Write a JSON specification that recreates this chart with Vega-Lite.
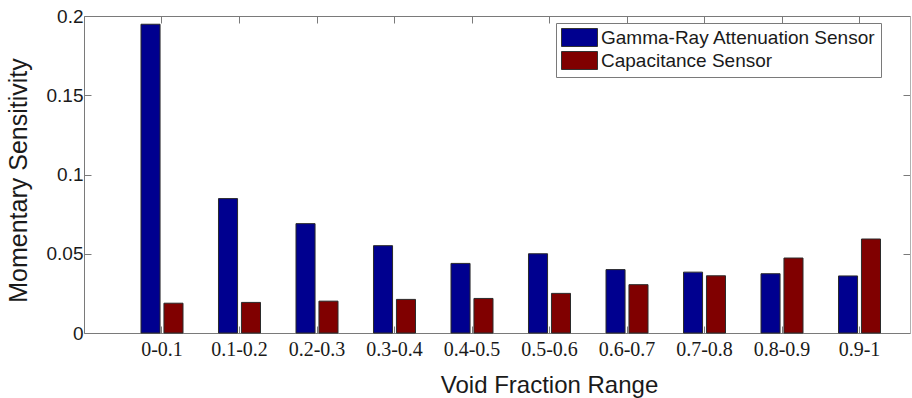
{
  "$schema": "https://vega.github.io/schema/vega-lite/v6.json",
  "width": 826,
  "height": 317,
  "autosize": "none",
  "padding": {"left": 84, "top": 16, "right": 2, "bottom": 65},
  "background": "white",
  "config": {"view": {"stroke": null}},
  "data": {
    "values": [
      {"range": "0-0.1", "sensor": "Gamma-Ray Attenuation Sensor", "value": 0.1948},
      {"range": "0-0.1", "sensor": "Capacitance Sensor", "value": 0.0188},
      {"range": "0.1-0.2", "sensor": "Gamma-Ray Attenuation Sensor", "value": 0.0848},
      {"range": "0.1-0.2", "sensor": "Capacitance Sensor", "value": 0.0193},
      {"range": "0.2-0.3", "sensor": "Gamma-Ray Attenuation Sensor", "value": 0.069},
      {"range": "0.2-0.3", "sensor": "Capacitance Sensor", "value": 0.0201},
      {"range": "0.3-0.4", "sensor": "Gamma-Ray Attenuation Sensor", "value": 0.0551},
      {"range": "0.3-0.4", "sensor": "Capacitance Sensor", "value": 0.0212},
      {"range": "0.4-0.5", "sensor": "Gamma-Ray Attenuation Sensor", "value": 0.0439},
      {"range": "0.4-0.5", "sensor": "Capacitance Sensor", "value": 0.0218},
      {"range": "0.5-0.6", "sensor": "Gamma-Ray Attenuation Sensor", "value": 0.05},
      {"range": "0.5-0.6", "sensor": "Capacitance Sensor", "value": 0.025},
      {"range": "0.6-0.7", "sensor": "Gamma-Ray Attenuation Sensor", "value": 0.04},
      {"range": "0.6-0.7", "sensor": "Capacitance Sensor", "value": 0.0305},
      {"range": "0.7-0.8", "sensor": "Gamma-Ray Attenuation Sensor", "value": 0.0384},
      {"range": "0.7-0.8", "sensor": "Capacitance Sensor", "value": 0.0361},
      {"range": "0.8-0.9", "sensor": "Gamma-Ray Attenuation Sensor", "value": 0.0374},
      {"range": "0.8-0.9", "sensor": "Capacitance Sensor", "value": 0.0473},
      {"range": "0.9-1", "sensor": "Gamma-Ray Attenuation Sensor", "value": 0.036},
      {"range": "0.9-1", "sensor": "Capacitance Sensor", "value": 0.0593}
    ]
  },
  "layer": [
    {
      "mark": {"type": "bar", "stroke": "#2b2b2b", "strokeWidth": 1},
      "encoding": {
        "x": {
          "field": "range", "type": "nominal", "sort": null,
          "scale": {"type": "band", "paddingInner": 0.458, "paddingOuter": 0.558, "align": 0.659},
          "axis": {
            "orient": "bottom", "title": "Void Fraction Range", "labelAngle": 0,
            "labelFont": "Liberation Serif", "labelFontSize": 20, "labelColor": "#1a1a1a", "labelPadding": 13,
            "tickSize": -7, "tickColor": "#7a7a7a", "domainColor": "#7a7a7a", "grid": false,
            "titleFont": "Liberation Sans", "titleFontSize": 24, "titleFontWeight": "normal", "titleColor": "#1a1a1a",
            "titleX": 465, "titleY": 59, "titleBaseline": "alphabetic", "titleAlign": "center", "titleAnchor": null
          }
        },
        "xOffset": {
          "field": "sensor", "type": "nominal",
          "sort": ["Gamma-Ray Attenuation Sensor", "Capacitance Sensor"],
          "scale": {"paddingInner": 0.17, "paddingOuter": 0}
        },
        "y": {
          "field": "value", "type": "quantitative",
          "scale": {"domain": [0, 0.2], "nice": false, "zero": true},
          "axis": {
            "orient": "left", "title": "Momentary Sensitivity", "values": [0, 0.05, 0.1, 0.15, 0.2],
            "labelExpr": "datum.value + ''",
            "labelFont": "Liberation Sans", "labelFontSize": 19, "labelColor": "#1a1a1a", "labelPadding": 8,
            "tickSize": -7, "tickColor": "#7a7a7a", "domainColor": "#7a7a7a", "grid": false,
            "titleFont": "Liberation Sans", "titleFontSize": 25, "titleFontWeight": "normal", "titleColor": "#1a1a1a",
            "titleX": -58, "titleY": 164, "titleBaseline": "alphabetic", "titleAlign": "center", "titleAngle": -90, "titleAnchor": null
          }
        },
        "color": {
          "field": "sensor", "type": "nominal",
          "scale": {"domain": ["Gamma-Ray Attenuation Sensor", "Capacitance Sensor"], "range": ["#00008F", "#800000"]},
          "legend": {
            "title": null, "orient": "none", "legendX": 472, "legendY": 7,
            "fillColor": "white", "strokeColor": "#7a7a7a", "padding": 5,
            "symbolType": "M-1,-1H3V1H-1Z", "symbolSize": 324, "symbolStrokeColor": "#333", "symbolStrokeWidth": 1,
            "labelFont": "Liberation Sans", "labelFontSize": 19, "labelColor": "#1a1a1a", "labelOffset": 21, "labelLimit": 400,
            "rowPadding": 0
          }
        }
      }
    },
    {
      "mark": {"type": "point", "opacity": 0},
      "encoding": {
        "x": {
          "field": "range", "type": "nominal", "sort": null,
          "axis": {"orient": "top", "title": null, "labels": false, "tickSize": -7, "tickColor": "#7a7a7a", "domainColor": "#7a7a7a", "grid": false}
        },
        "y": {
          "field": "value", "type": "quantitative",
          "axis": {"orient": "right", "title": null, "labels": false, "values": [0, 0.05, 0.1, 0.15, 0.2], "tickSize": -7, "tickColor": "#7a7a7a", "domainColor": "#b0b0b0", "grid": false}
        }
      }
    }
  ]
}
